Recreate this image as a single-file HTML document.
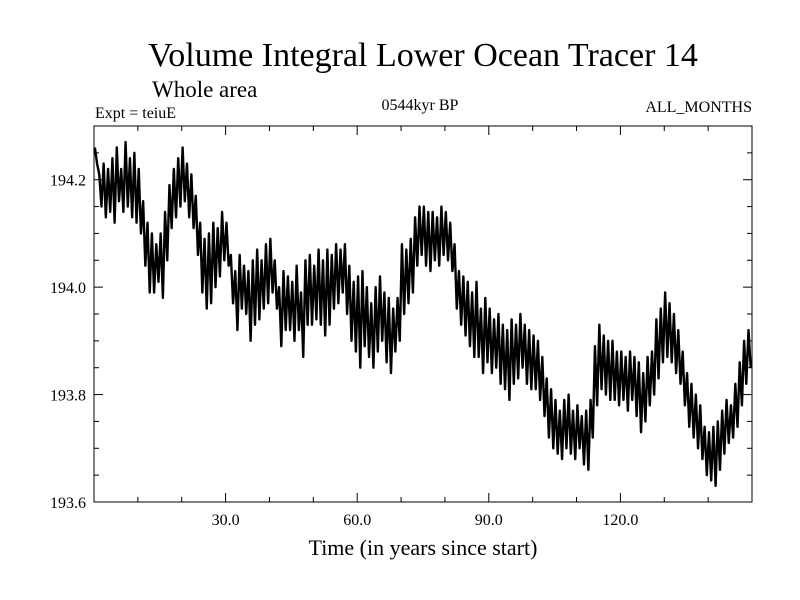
<!DOCTYPE html>
<html><head><meta charset="utf-8"><style>
html,body{margin:0;padding:0;background:#fff;}
svg{display:block;font-family:"Liberation Serif",serif;}
</style></head><body>
<svg id="chart" width="800" height="600">
<text x="423" y="66" font-size="34" text-anchor="middle">Volume Integral Lower Ocean Tracer 14</text>
<text x="152" y="97" font-size="23">Whole area</text>
<text x="95" y="118" font-size="16">Expt = teiuE</text>
<text x="420" y="110" font-size="16" text-anchor="middle">0544kyr BP</text>
<text x="752" y="112" font-size="16" text-anchor="end">ALL_MONTHS</text>
<text x="423" y="555" font-size="22" text-anchor="middle">Time (in years since start)</text>
<g id="axes"></g>
<path id="series" fill="none" stroke="#000" stroke-width="2.4" stroke-linejoin="round"></path>
<rect x="94" y="126" width="658" height="376" fill="none" stroke="#000" stroke-width="1"></rect>
</svg>
<script>
const yearHigh=[194.26,194.21,194.23,194.22,194.24,194.26,194.22,194.27,194.24,194.25,194.22,194.16,194.12,194.10,194.08,194.10,194.14,194.19,194.22,194.24,194.26,194.23,194.21,194.17,194.12,194.09,194.10,194.12,194.11,194.14,194.12,194.06,194.03,194.06,194.04,194.03,194.05,194.07,194.05,194.08,194.09,194.05,194.00,194.03,194.02,194.01,194.04,193.99,194.05,194.06,194.04,194.07,194.05,194.07,194.06,194.08,194.07,194.08,194.04,194.01,194.02,194.03,194.00,193.97,194.00,194.02,193.99,193.98,193.96,193.98,194.08,194.07,194.09,194.13,194.15,194.15,194.14,194.14,194.13,194.15,194.14,194.12,194.08,194.03,194.02,194.01,193.99,194.01,193.96,193.98,193.96,193.94,193.95,193.93,193.92,193.94,193.93,193.95,193.93,193.92,193.91,193.90,193.87,193.83,193.81,193.79,193.77,193.79,193.80,193.77,193.78,193.76,193.77,193.79,193.89,193.93,193.91,193.90,193.90,193.88,193.88,193.87,193.88,193.87,193.86,193.84,193.87,193.88,193.94,193.96,193.99,193.97,193.95,193.92,193.88,193.84,193.82,193.80,193.78,193.74,193.73,193.74,193.75,193.77,193.79,193.78,193.82,193.86,193.90,193.92];
const yearLow=[194.23,194.15,194.13,194.14,194.12,194.16,194.14,194.15,194.13,194.12,194.10,194.04,193.99,193.99,194.01,193.98,194.05,194.11,194.13,194.15,194.16,194.13,194.11,194.06,193.99,193.96,193.97,194.00,194.02,194.05,194.04,193.97,193.92,193.96,193.95,193.90,193.93,193.94,193.96,193.97,193.99,193.96,193.89,193.92,193.92,193.90,193.92,193.87,193.93,193.93,193.94,193.93,193.91,193.93,193.96,193.97,193.99,193.95,193.90,193.88,193.85,193.89,193.87,193.85,193.88,193.90,193.86,193.84,193.88,193.90,193.95,193.97,193.99,194.04,194.06,194.04,194.03,194.05,194.04,194.06,194.05,194.03,193.96,193.93,193.91,193.89,193.87,193.87,193.84,193.86,193.84,193.85,193.82,193.81,193.79,193.82,193.83,193.85,193.82,193.81,193.81,193.79,193.76,193.72,193.70,193.69,193.68,193.70,193.69,193.68,193.70,193.67,193.66,193.72,193.78,193.81,193.80,193.79,193.79,193.78,193.79,193.77,193.79,193.76,193.73,193.75,193.78,193.80,193.83,193.86,193.87,193.86,193.84,193.82,193.78,193.74,193.72,193.70,193.68,193.65,193.64,193.63,193.66,193.69,193.71,193.72,193.74,193.78,193.82,193.85];
const xTickValues=[30,60,90,120];
const xTickLabels=["30.0","60.0","90.0","120.0"];
const yTickValues=[193.6,193.8,194.0,194.2];
const yTickLabels=["193.6","193.8","194.0","194.2"];

const X0=94,X1=752,Y0=126,Y1=502,XMIN=0,XMAX=150,YMIN=193.6,YMAX=194.3;
function sx(v){return X0+(v-XMIN)/(XMAX-XMIN)*(X1-X0);}
function sy(v){return Y1-(v-YMIN)/(YMAX-YMIN)*(Y1-Y0);}
const NS="http://www.w3.org/2000/svg";
const axes=document.getElementById('axes');
function line(x1,y1,x2,y2,name){
  const l=document.createElementNS(NS,'line');
  l.setAttribute('x1',x1);l.setAttribute('y1',y1);l.setAttribute('x2',x2);l.setAttribute('y2',y2);
  l.setAttribute('stroke','#000');l.setAttribute('stroke-width','1');
  
  
  axes.appendChild(l);
}
function txt(x,y,s,anchor,name){
  const t=document.createElementNS(NS,'text');
  t.setAttribute('x',x);t.setAttribute('y',y);t.setAttribute('font-size','16');t.setAttribute('text-anchor',anchor);
  t.textContent=s;
  
  
  axes.appendChild(t);
}
for(let v=10;v<XMAX;v+=10){
  const major=v%30===0;const L=major?9:5;const x=sx(v);
  line(x,Y1,x,Y1-L,'x-tick');line(x,Y0,x,Y0+L,'x-tick-top');
}
for(let i=0;i<=14;i++){
  const v=YMIN+i*0.05;const major=i%4===0;const L=major?9:5;const y=sy(v);
  line(X0,y,X0+L,y,'y-tick');line(X1,y,X1-L,y,'y-tick-right');
}
xTickValues.forEach((v,i)=>txt(sx(v),525,xTickLabels[i],'middle','x-tick-label'));
yTickValues.forEach((v,i)=>txt(86,sy(v)+6,yTickLabels[i],'end','y-tick-label'));
let d='';
for(let i=0;i<yearHigh.length;i++){
  d+=(i===0?'M':'L')+sx(i+0.2).toFixed(2)+','+sy(yearHigh[i]).toFixed(2);
  d+='L'+sx(i+0.7).toFixed(2)+','+sy(yearLow[i]).toFixed(2);
}
document.getElementById('series').setAttribute('d',d);
</script>
</body></html>
